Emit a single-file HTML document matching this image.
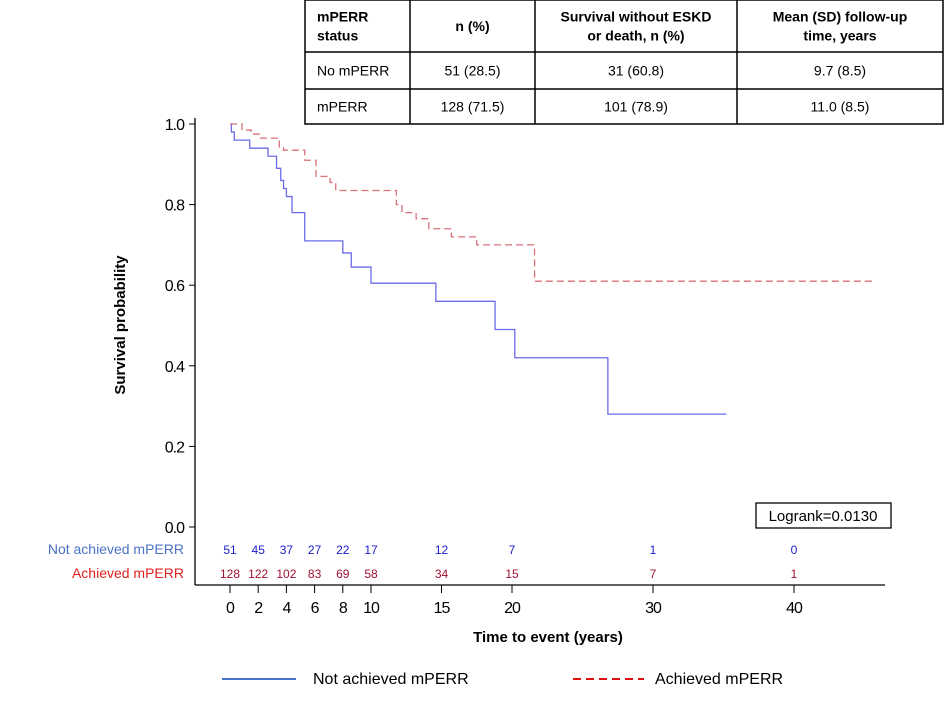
<!DOCTYPE html>
<html><head><meta charset="utf-8"><style>
body{margin:0;background:#fff;font-family:"Liberation Sans",sans-serif;}
svg text{font-family:"Liberation Sans",sans-serif;}
</style></head><body>
<svg id="chart" width="945" height="702" viewBox="0 0 945 702">
<g id="tbl"></g>
<g id="plot"></g>
</svg>
<script>
const blueT=[0,0.1,0.3,1.4,2.7,3.3,3.6,3.8,4.0,4.4,5.3,8.0,8.6,10.0,14.6,18.8,20.2,26.8];
const blueS=[1.0,0.98,0.96,0.94,0.92,0.89,0.86,0.84,0.82,0.78,0.71,0.68,0.645,0.605,0.56,0.49,0.42,0.28];
const blueEnd=35.2;
const redT=[0,0.85,1.5,2.05,3.5,3.8,5.3,6.1,7.1,7.5,11.8,12.2,13.2,14.1,15.7,17.5,21.6];
const redS=[1.0,0.985,0.975,0.965,0.943,0.935,0.91,0.87,0.855,0.835,0.80,0.78,0.765,0.74,0.72,0.70,0.61];
const redEnd=45.6;
const xTicks=[0,2,4,6,8,10,15,20,30,40];
const yTicks=[0,0.2,0.4,0.6,0.8,1.0];
const riskTimes=[0,2,4,6,8,10,15,20,30,40];
const riskNot=[51,45,37,27,22,17,12,7,1,0];
const riskAch=[128,122,102,83,69,58,34,15,7,1];
const tableRows=[["mPERR\nstatus","n (%)","Survival without ESKD\nor death, n (%)","Mean (SD) follow-up\ntime, years"],["No mPERR","51 (28.5)","31 (60.8)","9.7 (8.5)"],["mPERR","128 (71.5)","101 (78.9)","11.0 (8.5)"]];

const NS="http://www.w3.org/2000/svg";
function el(tag,attrs,parent,txt){const e=document.createElementNS(NS,tag);for(const k in attrs)e.setAttribute(k,attrs[k]);if(txt!==undefined)e.textContent=txt;parent.appendChild(e);return e;}
const X=t=>230+t*14.1, Y=s=>527-s*403;
const plot=document.getElementById('plot');
// axes
let a=el('line',{x1:195,y1:118,x2:195,y2:585,stroke:'#000','stroke-width':1.3},plot);


a=el('line',{x1:195,y1:585,x2:885,y2:585,stroke:'#000','stroke-width':1.3},plot);


yTicks.forEach(v=>{
 el('line',{x1:189,y1:Y(v),x2:195,y2:Y(v),stroke:'#000'},plot);
 const t=el('text',{x:184,y:Y(v)+6,'text-anchor':'end','font-size':16,'letter-spacing':'-1'},plot,v.toFixed(1));
 
 
});
xTicks.forEach(v=>{
 el('line',{x1:X(v),y1:585,x2:X(v),y2:593,stroke:'#000'},plot);
 const t=el('text',{x:X(v),y:613,'text-anchor':'middle','font-size':16,'letter-spacing':'-1'},plot,String(v));
 
 
});
let tt=el('text',{x:0,y:0,transform:'translate(125,325) rotate(-90)','text-anchor':'middle','font-size':15,'font-weight':'bold'},plot,'Survival probability');


tt=el('text',{x:548,y:642,'text-anchor':'middle','font-size':15,'font-weight':'bold'},plot,'Time to event (years)');


function stepPath(T,S,end){let d=`M${X(T[0])},${Y(S[0])}`;for(let i=1;i<T.length;i++){d+=` H${X(T[i])} V${Y(S[i])}`;}d+=` H${X(end)}`;return d;}
let p=el('path',{d:stepPath(blueT,blueS,blueEnd),fill:'none',stroke:'#6b6bea','stroke-width':1.3},plot);


p=el('path',{d:stepPath(redT,redS,redEnd),fill:'none',stroke:'#d9707a','stroke-width':1.3,'stroke-dasharray':'7,4'},plot);


// risk table
tt=el('text',{x:184,y:554,'text-anchor':'end','font-size':14,fill:'#4a72c4'},plot,'Not achieved mPERR');


tt=el('text',{x:184,y:578,'text-anchor':'end','font-size':14,fill:'#e02020'},plot,'Achieved mPERR');


riskTimes.forEach((t,i)=>{
 let a1=el('text',{x:X(t),y:554,'text-anchor':'middle','font-size':12,fill:'#1a1acc'},plot,String(riskNot[i]));
 
 
 let a2=el('text',{x:X(t),y:578,'text-anchor':'middle','font-size':12,fill:'#a01030'},plot,String(riskAch[i]));
 
 
});
// logrank
let g=el('g',{},plot);


el('rect',{x:756,y:503,width:135,height:25,fill:'#fff',stroke:'#000','stroke-width':1.3},g);
el('text',{x:823,y:521,'text-anchor':'middle','font-size':15},g,'Logrank=0.0130');
// legend
g=el('g',{},plot);


el('line',{x1:222,y1:679,x2:296,y2:679,stroke:'#4a72c4','stroke-width':2},g);
el('text',{x:313,y:684,'font-size':16},g,'Not achieved mPERR');
g=el('g',{},plot);


el('line',{x1:573,y1:679,x2:644,y2:679,stroke:'#e01010','stroke-width':2,'stroke-dasharray':'8,5'},g);
el('text',{x:655,y:684,'font-size':16},g,'Achieved mPERR');
// summary table
const tbl=document.getElementById('tbl');
const cx=[305,410,535,737,943], ry=[0,52,89,124];
el('rect',{x:305,y:0,width:638,height:124,fill:'#fff',stroke:'#000','stroke-width':1.5},tbl);
cx.slice(1,4).forEach(x=>el('line',{x1:x,y1:0,x2:x,y2:124,stroke:'#000','stroke-width':1.5},tbl));
ry.slice(1,3).forEach(y=>el('line',{x1:305,y1:y,x2:943,y2:y,stroke:'#000','stroke-width':1.5},tbl));
tableRows.forEach((row,r)=>{
 row.forEach((c,ci)=>{
  const lines=c.split('\n');
  const left=ci===0;
  const xx=left?cx[0]+12:(cx[ci]+cx[ci+1])/2;
  const cy=(ry[r]+ry[r+1])/2;
  lines.forEach((ln,li)=>{
   const t=el('text',{x:xx,y:cy+5+(li-(lines.length-1)/2)*19,'text-anchor':left?'start':'middle','font-size':14,'font-weight':r===0?'bold':'normal'},tbl,ln);
   
   
  });
 });
});
</script>
</body></html>
